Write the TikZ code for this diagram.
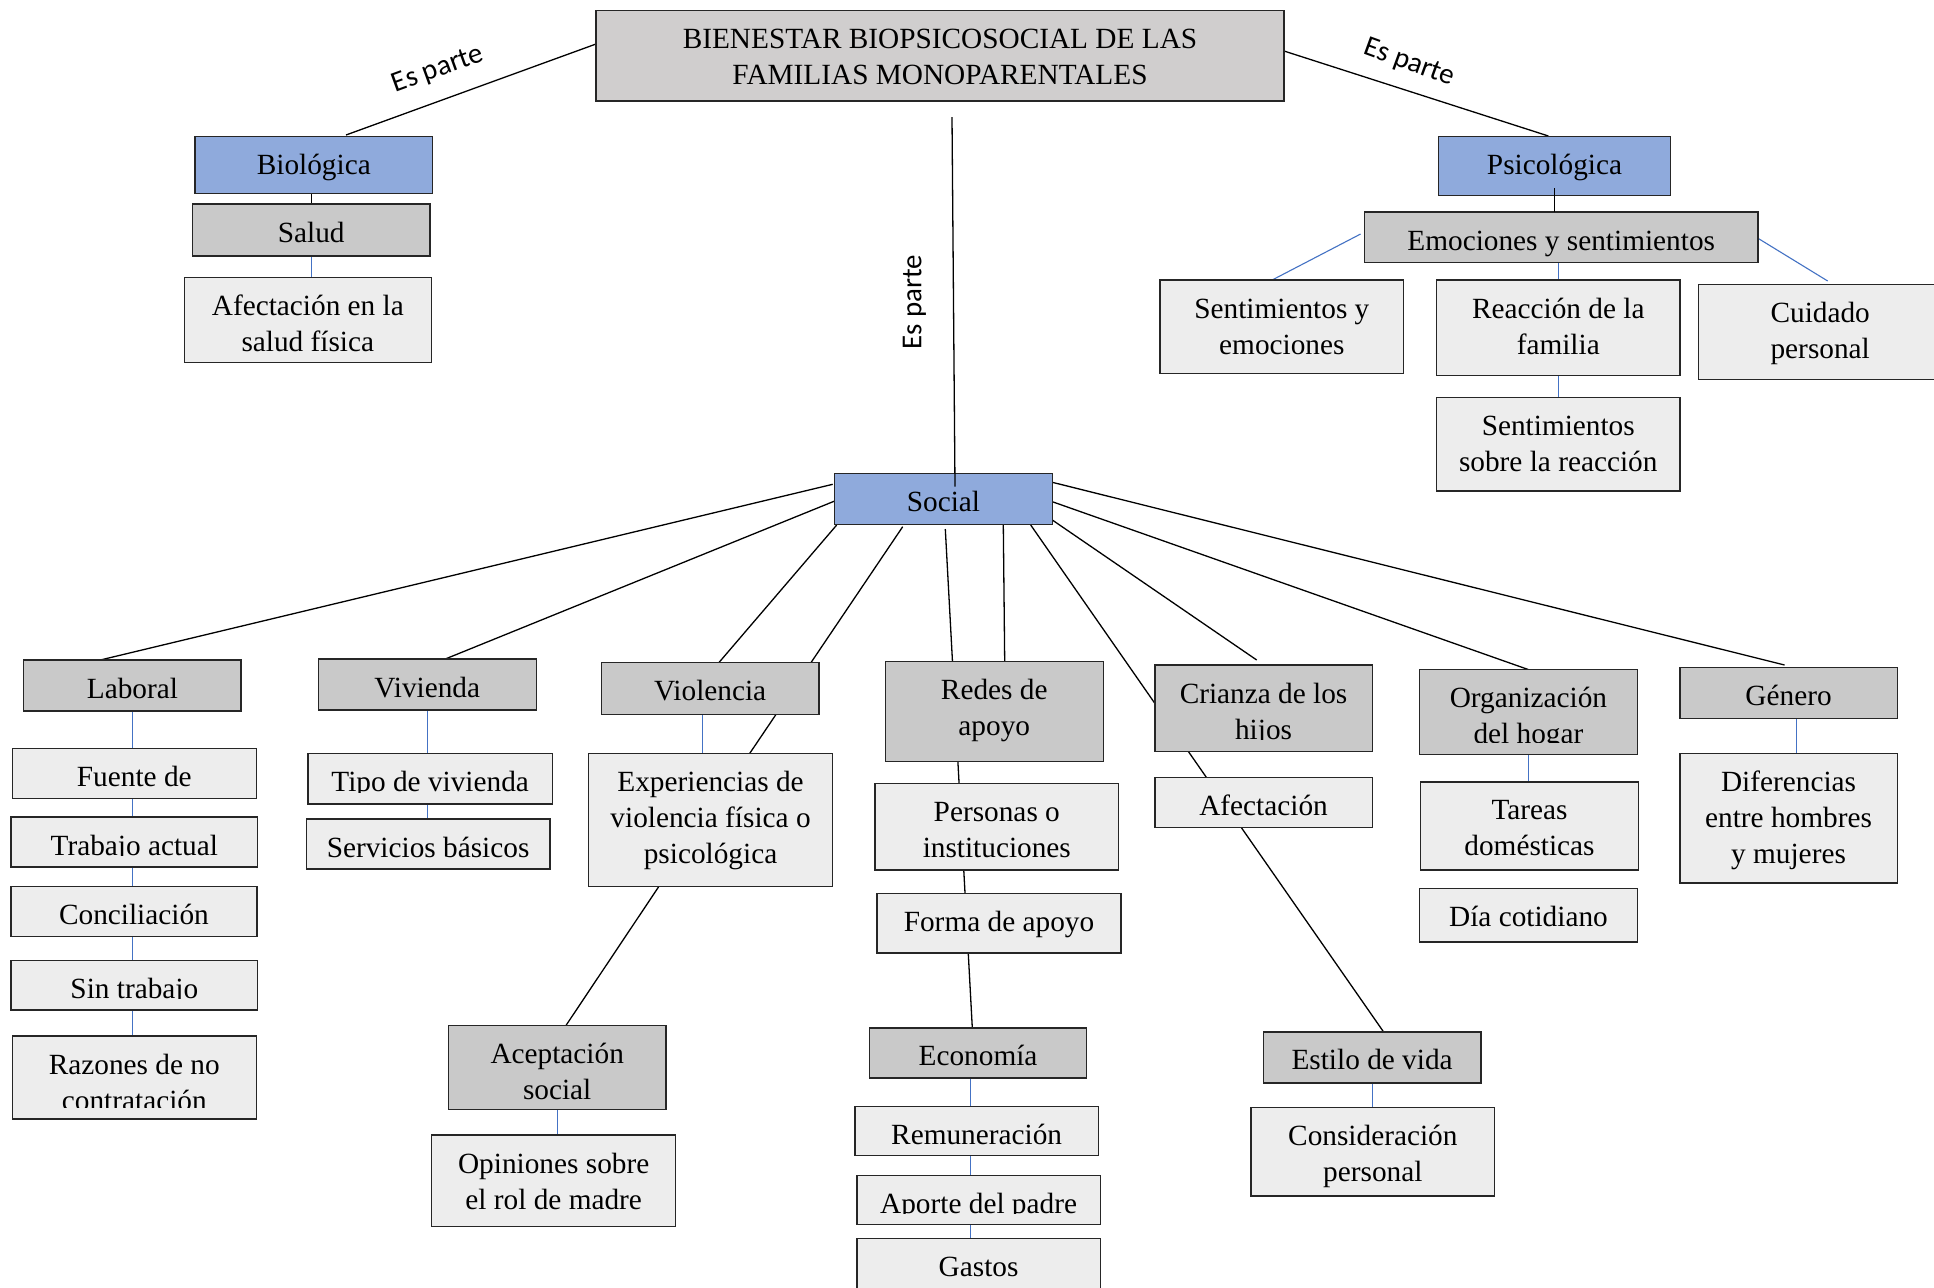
\documentclass[tikz,border=0pt]{standalone}
\usepackage{fontspec}
\setmainfont{Liberation Serif}
\newfontfamily\lblfamily{Carlito}
\usetikzlibrary{calc}

\definecolor{boxblue}{HTML}{8FAADC}
\definecolor{boxgray}{HTML}{C9C9C9}
\definecolor{boxlight}{HTML}{EDEDED}
\definecolor{boxtitle}{HTML}{D0CECE}
\definecolor{linkblue}{HTML}{4472C4}

\newcommand\boxfont{\fontsize{14.65pt}{18pt}\selectfont}

\pgfdeclarelayer{links}
\pgfsetlayers{links,main}

\tikzset{
  frame/.style={rectangle, draw=black!85, line width=0.7pt, inner sep=0pt, outer sep=0pt},
  topbox/.style={frame, fill=boxtitle},
  dimbox/.style={frame, fill=boxblue},
  grpbox/.style={frame, fill=boxgray},
  leafbox/.style={frame, fill=boxlight},
  boxtext/.style={anchor=north, inner sep=0pt, outer sep=0pt, align=center, font=\boxfont},
  link/.style={draw=black, line width=0.65pt},
  sublink/.style={draw=linkblue, line width=0.55pt},
  lbl/.style={font=\lblfamily\fontsize{14.45pt}{17pt}\selectfont, inner sep=0pt},
}

% box given by its corners (x1,y1) (x2,y2); text hangs from the top edge
\newcommand\mkbox[7]{%
  \node[#1, minimum width={(#5-#3)*0.5pt}, minimum height={(#6-#4)*0.5pt}]
    (#2) at ({(#3+#5)/2},{(#4+#6)/2}) {};
  \node[boxtext] (#2-t) at ([yshift=-6.4pt]#2.north) {\strut #7};}

% same, with the text cut off above the lower inner margin
\newcommand\mkcbox[7]{%
  \node[#1, minimum width={(#5-#3)*0.5pt}, minimum height={(#6-#4)*0.5pt}]
    (#2) at ({(#3+#5)/2},{(#4+#6)/2}) {};
  \begin{scope}
    \clip (#2.north west) rectangle ([yshift=5.75pt]#2.south east);
    \node[boxtext] (#2-t) at ([yshift=-6.4pt]#2.north) {\strut #7};
  \end{scope}}

\begin{document}
\begin{tikzpicture}[x=0.5pt, y=-0.5pt]
\useasboundingbox (0,0) rectangle (1934,1287);
\begin{pgfonlayer}{links}
  \fill[white] (0,0) rectangle (1934,1287);
\end{pgfonlayer}

% ---- top ----
\mkbox{topbox}{title}{596}{10.7}{1284}{101}{BIENESTAR BIOPSICOSOCIAL DE LAS\\FAMILIAS MONOPARENTALES}

% ---- biological branch ----
\mkbox{dimbox}{bio}{195}{136.7}{432.6}{193.3}{Biológica}
\mkbox{grpbox}{salud}{192.4}{204}{430}{256}{Salud}
\mkbox{leafbox}{afsal}{184.4}{277.7}{431.3}{362.3}{Afectación en la\\salud física}

% ---- psychological branch ----
\mkbox{dimbox}{psico}{1438.3}{136.7}{1670.7}{195.7}{Psicológica}
\mkbox{grpbox}{emo}{1364.4}{212}{1758}{262.3}{Emociones y sentimientos}
\mkbox{leafbox}{sye}{1160}{280}{1403.7}{373.3}{Sentimientos y\\emociones}
\mkbox{leafbox}{reac}{1436.7}{280}{1679.8}{375.7}{Reacción de la\\familia}
\mkbox{leafbox}{cuid}{1698.4}{284.3}{1942}{379.3}{Cuidado\\personal}
\mkbox{leafbox}{sobre}{1436.7}{397.7}{1679.8}{491}{Sentimientos\\sobre la reacción}

% ---- social branch ----
\mkbox{dimbox}{social}{834.7}{473.7}{1052.3}{524.3}{Social}

\mkbox{grpbox}{laboral}{23.7}{660}{241.1}{711}{Laboral}
\mkbox{leafbox}{fuente}{12.2}{748.7}{256.4}{798.7}{Fuente de}
\mkcbox{leafbox}{trabajo}{11.1}{817}{257.6}{867}{Trabajo actual}
\mkbox{leafbox}{concil}{11.1}{886.7}{256.8}{936.3}{Conciliación}
\mkcbox{leafbox}{sintrab}{11.1}{960.3}{257.6}{1010}{Sin trabajo}
\mkcbox{leafbox}{razones}{12.2}{1036}{256.4}{1119}{Razones de no\\contratación}

\mkbox{grpbox}{vivienda}{318.4}{659}{536.2}{710}{Vivienda}
\mkcbox{leafbox}{tipo}{308.1}{753.7}{552.2}{804}{Tipo de vivienda}
\mkbox{leafbox}{servicios}{306.2}{819}{550}{869}{Servicios básicos}

\mkbox{grpbox}{violencia}{601.4}{662.7}{818.9}{714.3}{Violencia}
\mkbox{leafbox}{exper}{588.4}{753.4}{832.7}{886.7}{Experiencias de\\violencia física o\\psicológica}
\mkbox{grpbox}{acept}{448.5}{1025.7}{665.9}{1109.5}{Aceptación\\social}
\mkbox{leafbox}{opin}{431.7}{1135}{675.7}{1226.6}{Opiniones sobre\\el rol de madre}

\mkbox{grpbox}{redes}{885.3}{661.5}{1103.2}{761.3}{Redes de\\apoyo}
\mkbox{leafbox}{personas}{875}{783.2}{1118.6}{869.8}{Personas o\\instituciones}
\mkbox{leafbox}{forma}{877}{893.7}{1121}{953.1}{Forma de apoyo}
\mkbox{grpbox}{econ}{869.5}{1027.8}{1086.6}{1078.1}{Economía}
\mkbox{leafbox}{remun}{854.9}{1106.2}{1098.4}{1155.3}{Remuneración}
\mkcbox{leafbox}{aporte}{856.8}{1175.5}{1100.4}{1224.6}{Aporte del padre}
\mkbox{leafbox}{gastos}{856.8}{1238.3}{1100.4}{1300}{Gastos}

\mkcbox{grpbox}{crianza}{1154.8}{665}{1372.3}{751.4}{Crianza de los\\hijos}
\mkbox{leafbox}{afcrianza}{1154.8}{777.5}{1372.3}{827.5}{Afectación}
\mkbox{grpbox}{estilo}{1263.3}{1031.8}{1480.9}{1082.9}{Estilo de vida}
\mkbox{leafbox}{consid}{1251}{1107.5}{1494.7}{1196.1}{Consideración\\personal}

\mkcbox{grpbox}{org}{1419.7}{669.6}{1637.2}{754.3}{Organización\\del hogar}
\mkbox{leafbox}{tareas}{1420.7}{781.8}{1638.3}{870}{Tareas\\domésticas}
\mkbox{leafbox}{dia}{1419.7}{888.2}{1637.2}{941.8}{Día cotidiano}

\mkbox{grpbox}{genero}{1679.8}{667.5}{1897.3}{718.6}{Género}
\mkbox{leafbox}{difer}{1679.8}{753.6}{1897.3}{882.9}{Diferencias\\entre hombres\\y mujeres}

% ---- connectors running behind the boxes ----
\begin{pgfonlayer}{links}
  \draw[link] ([shift={(0,-11.85)}]title.west) -- ([shift={(32.2,-1.7)}]bio.north);
  \draw[link] ([shift={(0,-4.85)}]title.east) -- ([shift={(-6.1,-0.7)}]psico.north);
  \draw[link] (salud.north |- bio.south) -- (salud.north);

  \draw[link] ([shift={(-2,-14.7)}]social.west) -- ([shift={(-32.1,0)}]laboral.north);
  \draw[link] ([shift={(-0.7,2.3)}]social.west) -- ([shift={(15.5,1)}]vivienda.north);
  \draw[link] ([shift={(2,0.7)}]social.south west) -- ([shift={(8.65,0)}]violencia.north);
  \draw[link] ([shift={(-40.8,2.4)}]social.south) -- ([shift={(39.15,0)}]exper.north);
  \draw[link] ([shift={(1.8,4.7)}]social.south) -- ([shift={(-5.75,0)}]econ.north);
  \draw[link] ([shift={(59.8,0.7)}]social.south) -- ([shift={(10.45,0)}]redes.north);
  \draw[link] ([shift={(87.2,0.7)}]social.south) -- ([shift={(11.4,0)}]estilo.north);
  \draw[link] ([shift={(0,21)}]social.east) -- ([shift={(-6.85,-5)}]crianza.north);
  \draw[link] ([shift={(0,2.7)}]social.east) -- (org.north);
  \draw[link] ([shift={(0,-16.7)}]social.east) -- ([shift={(-3.95,-2.5)}]genero.north);
  \draw[link] ([shift={(-51.85,0)}]exper.south) -- ([shift={(8.6,0)}]acept.north);

  % blue sub-links
  \draw[sublink] (salud.south) -- (salud.south |- afsal.north);
  \draw[sublink] ([shift={(-3.8,-3.15)}]emo.west) -- ([shift={(-11.65,1)}]sye.north);
  \draw[sublink] ([shift={(0,1.15)}]emo.east) -- ([shift={(7.5,-3.3)}]cuid.north);
  \draw[sublink] (reac.north |- emo.south) -- (reac.north);
  \draw[sublink] (reac.south) -- (sobre.north);

  \draw[sublink] (laboral.south) -- (laboral.south |- fuente.north);
  \draw[sublink] (laboral.south |- fuente.south) -- (laboral.south |- trabajo.north);
  \draw[sublink] (laboral.south |- trabajo.south) -- (laboral.south |- concil.north);
  \draw[sublink] (laboral.south |- concil.south) -- (laboral.south |- sintrab.north);
  \draw[sublink] (laboral.south |- sintrab.south) -- (laboral.south |- razones.north);

  \draw[sublink] (vivienda.south) -- (vivienda.south |- tipo.north);
  \draw[sublink] (vivienda.south |- tipo.south) -- (vivienda.south |- servicios.north);

  \draw[sublink] ($(violencia.south)+(-8,0)$) -- ($(violencia.south |- exper.north)+(-8,0)$);
  \draw[sublink] (acept.south) -- (acept.south |- opin.north);

  \draw[sublink] ($(econ.south)+(-7.75,0)$) -- ($(econ.south |- remun.north)+(-7.75,0)$);
  \draw[sublink] ($(econ.south |- remun.south)+(-7.75,0)$) -- ($(econ.south |- aporte.north)+(-7.75,0)$);
  \draw[sublink] ($(econ.south |- aporte.south)+(-7.75,0)$) -- ($(econ.south |- gastos.north)+(-7.75,0)$);

  \draw[sublink] (estilo.south) -- (estilo.south |- consid.north);
  \draw[sublink] (org.south) -- (org.south |- tareas.north);
  \draw[sublink] ($(genero.south)+(7.75,0)$) -- ($(genero.south |- difer.north)+(7.75,0)$);
\end{pgfonlayer}

% ---- connectors drawn over the boxes ----
\draw[link] ([shift={(12,16)}]title.south) -- ([shift={(11.5,-12.3)}]social.center);
\draw[link] ([shift={(0,22)}]psico.center) -- (psico.center |- emo.north);

% ---- link labels ----
\node[lbl, rotate=20] (partbio) at (438,70) {Es parte};
\node[lbl, rotate=-20] (partpsi) at (1409,63) {Es parte};
\node[lbl, rotate=90] (partsoc) at (914.5,302.5) {Es parte};
\end{tikzpicture}
\end{document}
